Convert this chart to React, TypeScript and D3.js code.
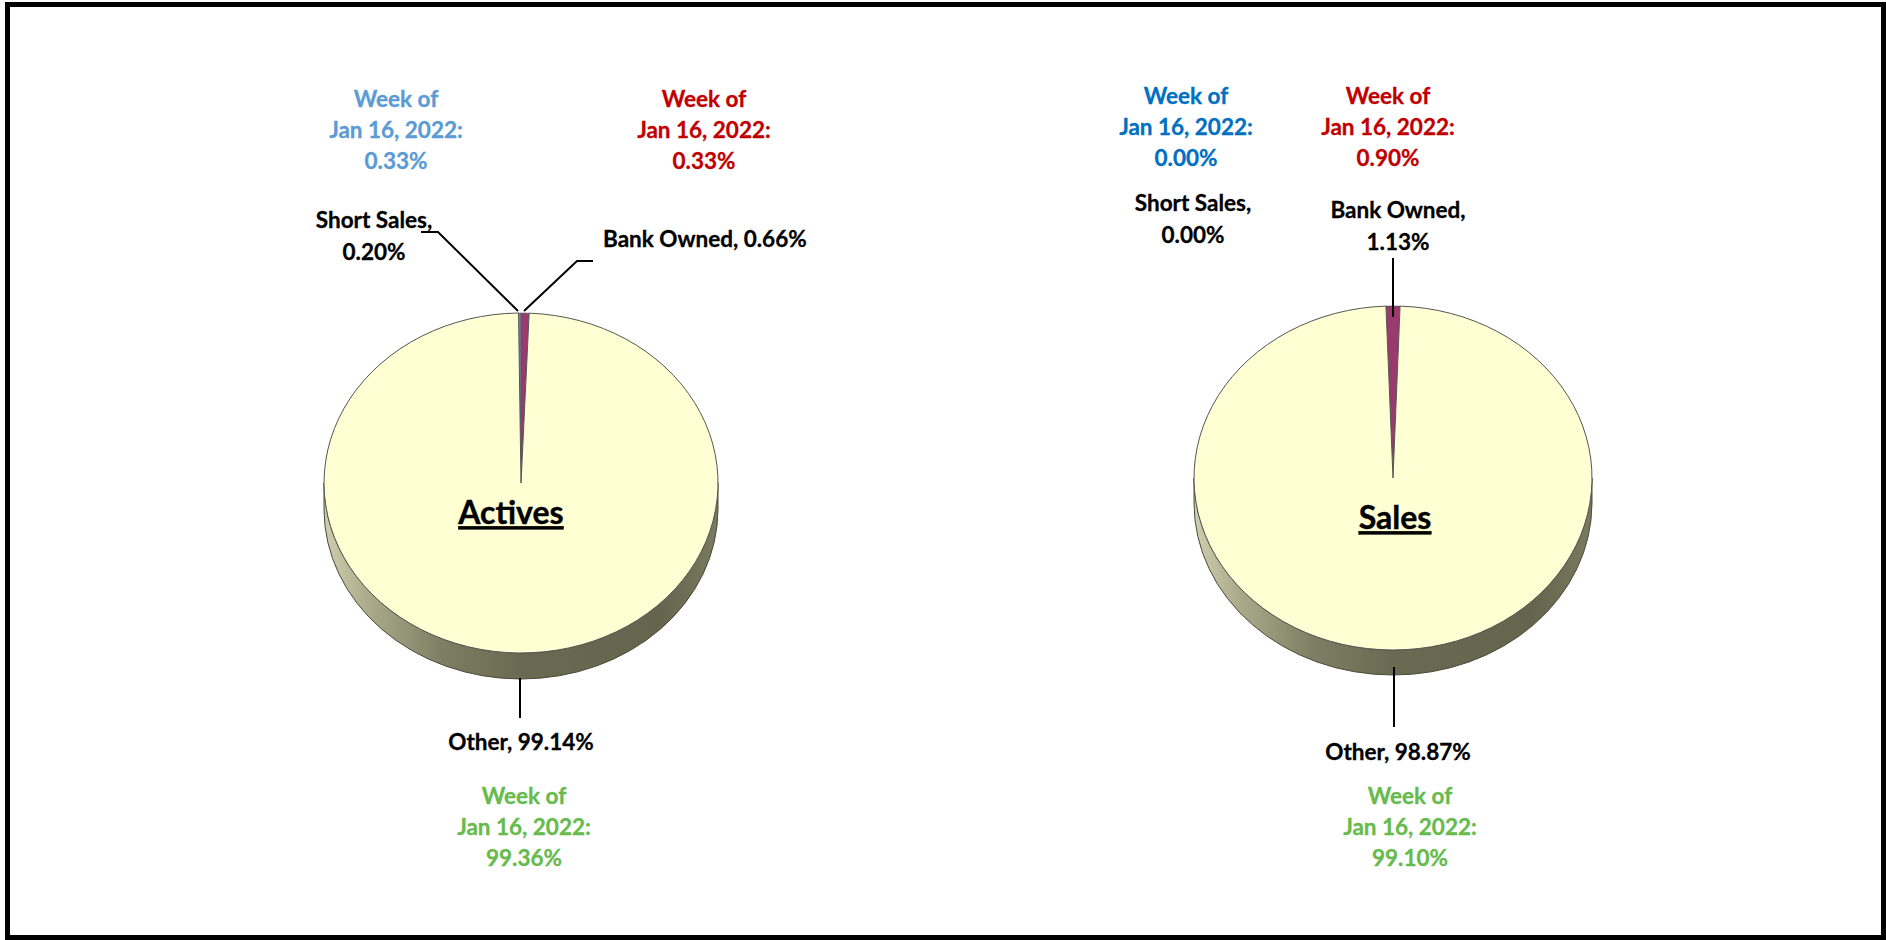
import React from "react";
import * as d3 from "d3";

// ---------- data ----------
const CATEGORIES = ["Short Sales", "Bank Owned", "Other"];
const ACTIVES_VALUES = [0.2, 0.66, 99.14];
const SALES_VALUES = [0.0, 1.13, 98.87];
const ACTIVES_WEEK_VALUES = [0.33, 0.33, 99.36];
const SALES_WEEK_VALUES = [0.0, 0.9, 99.1];
const WEEK_PREFIX = "Week of";
const WEEK_DATE = "Jan 16, 2022:";
const PIE_TITLES = ["Actives", "Sales"];

// ---------- style ----------
const W = 1886;
const H = 940;
const FONT = "Lato, 'Open Sans', 'DejaVu Sans', sans-serif";
const SLICE_COLORS = ["#8585C8", "#9B3A6C", "#FFFFD3"];
const fmt = (v: number) => v.toFixed(2) + "%";

type Pt = [number, number];
interface PieLayout {
  cx: number;
  cy: number;
  rx: number;
  ry: number;
  depth: number;
  rotation: number; // start angle offset as fraction of the circle
  title: Pt;
  weekColors: string[];
  weekPos: Pt[]; // center of first line for each category
  labelLines: string[][];
  labelPos: Pt[]; // center of first line
  labelAnchor: string[];
  leaders: (Pt[] | null)[];
}

function lines3(v: number) {
  return [WEEK_PREFIX, WEEK_DATE, fmt(v)];
}

const layouts: PieLayout[] = [
  {
    cx: 521,
    cy: 483,
    rx: 197,
    ry: 170,
    depth: 26,
    rotation: -ACTIVES_VALUES[0] / 100,
    title: [511, 513],
    weekColors: ["#5B9BD5", "#C00000", "#66BB4C"],
    weekPos: [
      [396, 99],
      [704, 99],
      [524, 796],
    ],
    labelLines: [
      [CATEGORIES[0] + ",", fmt(ACTIVES_VALUES[0])],
      [CATEGORIES[1] + ", " + fmt(ACTIVES_VALUES[1])],
      [CATEGORIES[2] + ", " + fmt(ACTIVES_VALUES[2])],
    ],
    labelPos: [
      [374, 220],
      [603, 239],
      [521, 742],
    ],
    labelAnchor: ["middle", "start", "middle"],
    leaders: [
      [
        [421, 232],
        [438, 232],
        [518, 311],
      ],
      [
        [593, 261],
        [577, 261],
        [524, 311],
      ],
      [
        [520, 678],
        [520, 718],
      ],
    ],
  },
  {
    cx: 1393,
    cy: 478,
    rx: 199,
    ry: 172,
    depth: 25,
    rotation: -(SALES_VALUES[0] + SALES_VALUES[1] / 2) / 100,
    title: [1395, 518],
    weekColors: ["#0070C0", "#C00000", "#66BB4C"],
    weekPos: [
      [1186, 96],
      [1388, 96],
      [1410, 796],
    ],
    labelLines: [
      [CATEGORIES[0] + ",", fmt(SALES_VALUES[0])],
      [CATEGORIES[1] + ",", fmt(SALES_VALUES[1])],
      [CATEGORIES[2] + ", " + fmt(SALES_VALUES[2])],
    ],
    labelPos: [
      [1193, 203],
      [1398, 210],
      [1398, 752],
    ],
    labelAnchor: ["middle", "middle", "middle"],
    leaders: [
      null,
      [
        [1393, 258],
        [1393, 317],
      ],
      [
        [1394, 667],
        [1394, 727],
      ],
    ],
  },
];

const DATASETS = [
  { values: ACTIVES_VALUES, week: ACTIVES_WEEK_VALUES },
  { values: SALES_VALUES, week: SALES_WEEK_VALUES },
];

function Pie3D({ idx }: { idx: number }) {
  const L = layouts[idx];
  const { values, week } = DATASETS[idx];
  const start = L.rotation * 2 * Math.PI;
  const pie = d3
    .pie<number>()
    .sort(null)
    .value((d) => d)
    .startAngle(start)
    .endAngle(start + 2 * Math.PI);
  const arcs = pie(values);
  const arc = d3.arc<d3.PieArcDatum<number>>().innerRadius(0).outerRadius(L.rx);
  const { cx, cy, rx, ry, depth } = L;
  const sidePath = `M${cx - rx},${cy} A${rx},${ry} 0 0 0 ${cx + rx},${cy} L${cx + rx},${cy + depth} A${rx},${ry} 0 0 1 ${cx - rx},${cy + depth} Z`;
  const gid = `side-grad-${idx}`;
  const line = d3.line();
  const lineH = 31;
  const fs = 22.5;
  return (
    <g>
      <defs>
        <linearGradient id={gid} x1={cx - rx} x2={cx + rx} y1={0} y2={0} gradientUnits="userSpaceOnUse">
          <stop offset="0" stopColor="#CFCFAE" />
          <stop offset="0.12" stopColor="#A9A98A" />
          <stop offset="0.3" stopColor="#7E7E64" />
          <stop offset="0.5" stopColor="#6A6A52" />
          <stop offset="0.85" stopColor="#65654E" />
          <stop offset="1" stopColor="#7A7A60" />
        </linearGradient>
      </defs>
      <path d={sidePath} fill={`url(#${gid})`} stroke="#4a4a3a" strokeWidth={1} />
      <g transform={`translate(${cx},${cy}) scale(1,${ry / rx})`}>
        {arcs.map((a, i) =>
          a.endAngle - a.startAngle > 0 ? (
            <path
              key={i}
              d={arc(a) || ""}
              fill={SLICE_COLORS[i]}
              stroke="#555"
              strokeWidth={i === 2 ? 1 : 0.6}
              vectorEffect="non-scaling-stroke"
            />
          ) : null
        )}
      </g>
      {/* leader lines */}
      {L.leaders.map((pts, i) =>
        pts ? <path key={"l" + i} d={line(pts) || ""} fill="none" stroke="#000" strokeWidth={2} /> : null
      )}
      {/* category labels */}
      {L.labelLines.map((ls, i) => (
        <text
          key={"c" + i}
          x={L.labelPos[i][0]}
          y={L.labelPos[i][1]}
          textAnchor={L.labelAnchor[i]}
          fontFamily={FONT}
          fontWeight={700}
          fontSize={fs}
          fill="#000"
          stroke="#000"
          strokeWidth={0.3}
        >
          {ls.map((t, j) => (
            <tspan key={j} x={L.labelPos[i][0]} y={L.labelPos[i][1] + j * 32} dy="0.35em">
              {t}
            </tspan>
          ))}
        </text>
      ))}
      {/* week-of labels */}
      {week.map((v, i) => (
        <text
          key={"w" + i}
          textAnchor="middle"
          fontFamily={FONT}
          fontWeight={700}
          fontSize={fs}
          fill={L.weekColors[i]}
          stroke={L.weekColors[i]}
          strokeWidth={0.3}
        >
          {lines3(v).map((t, j) => (
            <tspan key={j} x={L.weekPos[i][0]} y={L.weekPos[i][1] + j * lineH} dy="0.35em">
              {t}
            </tspan>
          ))}
        </text>
      ))}
      {/* title */}
      <text
        x={L.title[0]}
        y={L.title[1]}
        dy="0.35em"
        textAnchor="middle"
        fontFamily={FONT}
        fontWeight={700}
        fontSize={32}
        textDecoration="underline"
        fill="#000"
        stroke="#000"
        strokeWidth={0.4}
      >
        {PIE_TITLES[idx]}
      </text>
    </g>
  );
}

export default function App() {
  return (
    <svg
      width={W}
      height={H}
      style={{ position: "absolute", left: 0, top: 0, background: "#fff" }}
    >
      <rect x={0} y={0} width={W} height={H} fill="#fff" />
      <rect x={7.5} y={4.5} width={1876} height={933} fill="none" stroke="#000" strokeWidth={5} />
      <Pie3D idx={0} />
      <Pie3D idx={1} />
    </svg>
  );
}
